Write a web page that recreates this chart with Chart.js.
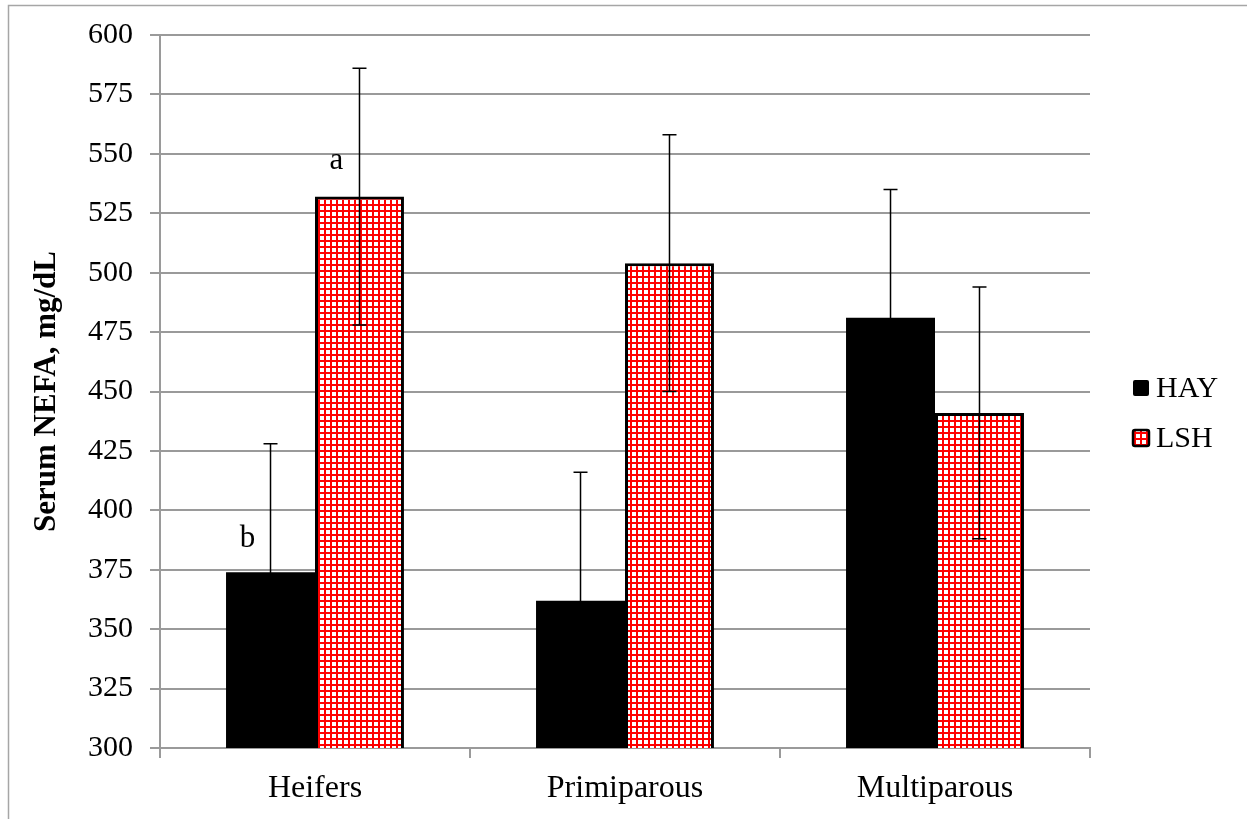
<!DOCTYPE html>
<html>
<head>
<meta charset="utf-8">
<script src="https://cdn.jsdelivr.net/npm/chart.js@4"></script>
<style>
  html, body { margin: 0; padding: 0; background: #fff; }
  #wrap { width: 1247px; height: 819px; }
</style>
</head>
<body>
<div id="wrap"><canvas id="canvas1" width="1247" height="819"></canvas></div>
<script>
const categories = ["Heifers", "Primiparous", "Multiparous"];
const hayValues = [374, 362, 481];
const lshValues = [532, 504, 441];
const hayErrors = [54, 54, 54];
const lshErrors = [54, 54, 53];
// significance letters and the value they sit at
const hayLetters = ["b", "", ""];
const hayLetterAt = [388, null, null];
const lshLetters = ["a", "", ""];
const lshLetterAt = [547, null, null];
const yMin = 300, yMax = 600, yStep = 25;

const serif = '"Liberation Serif", "Times New Roman", serif';
Chart.defaults.font.family = serif;
Chart.defaults.color = "#000";

const ctx1 = document.getElementById("canvas1");
const gridColor = "#9a9a9a";

function makeGridPattern() {
  const tile = document.createElement("canvas");
  tile.width = 6;
  tile.height = 6;
  const t = tile.getContext("2d");
  t.fillStyle = "#fff";
  t.fillRect(0, 0, 6, 6);
  t.fillStyle = "#ff0000";
  t.fillRect(0, 0, 6, 2);
  t.fillRect(0, 0, 2, 6);
  return ctx1.getContext("2d").createPattern(tile, "repeat");
}
const redGrid = makeGridPattern();

const framePlugin = {
  id: "frame",
  beforeDraw(chart) {
    const c = chart.ctx;
    c.save();
    c.fillStyle = "#fff";
    c.fillRect(0, 0, chart.width, chart.height);
    c.strokeStyle = "#a6a6a6";
    c.lineWidth = 1.5;
    c.beginPath();
    c.moveTo(8.5, chart.height);
    c.lineTo(8.5, 5.5);
    c.lineTo(chart.width, 5.5);
    c.stroke();
    c.restore();
  }
};

const errorBarPlugin = {
  id: "errorBars",
  afterDatasetsDraw(chart) {
    const c = chart.ctx;
    const y = chart.scales.y;
    c.save();
    c.strokeStyle = "#000";
    c.lineWidth = 1.5;
    chart.data.datasets.forEach((ds, i) => {
      const meta = chart.getDatasetMeta(i);
      meta.data.forEach((bar, j) => {
        const v = ds.data[j], e = ds.errors[j];
        const top = y.getPixelForValue(v + e);
        const bot = y.getPixelForValue(v - e);
        c.beginPath();
        c.moveTo(bar.x, top);
        c.lineTo(bar.x, bot);
        c.moveTo(bar.x - 7, top);
        c.lineTo(bar.x + 7, top);
        c.moveTo(bar.x - 7, bot);
        c.lineTo(bar.x + 7, bot);
        c.stroke();
      });
    });
    c.restore();
  }
};

const letterPlugin = {
  id: "letters",
  afterDatasetsDraw(chart) {
    const c = chart.ctx;
    const y = chart.scales.y;
    c.save();
    c.font = "31px " + serif;
    c.fillStyle = "#000";
    c.textAlign = "center";
    c.textBaseline = "middle";
    chart.data.datasets.forEach((ds, i) => {
      const meta = chart.getDatasetMeta(i);
      meta.data.forEach((bar, j) => {
        if (!ds.letters[j]) return;
        c.fillText(ds.letters[j], bar.x - 23, y.getPixelForValue(ds.letterAt[j]));
      });
    });
    c.restore();
  }
};

const legendPlugin = {
  id: "sideLegend",
  afterDraw(chart) {
    const c = chart.ctx;
    const centers = [388, 438];
    c.save();
    c.font = "30px " + serif;
    c.textBaseline = "middle";
    chart.data.datasets.forEach((ds, i) => {
      const cy = centers[i];
      c.beginPath();
      c.roundRect(1133, cy - 8, 16, 16, 2);
      c.fillStyle = ds.backgroundColor;
      c.fill();
      if (ds.borderWidth) {
        c.strokeStyle = "#000";
        c.lineWidth = 2.5;
        c.stroke();
      }
      c.fillStyle = "#000";
      c.fillText(ds.label, 1156, cy + 1);
    });
    c.restore();
  }
};

new Chart(ctx1, {
  type: "bar",
  data: {
    labels: categories,
    datasets: [
      {
        label: "HAY",
        data: hayValues,
        errors: hayErrors,
        letters: hayLetters,
        letterAt: hayLetterAt,
        backgroundColor: "#000",
        borderWidth: 0,
        categoryPercentage: 0.574,
        barPercentage: 1
      },
      {
        label: "LSH",
        data: lshValues,
        errors: lshErrors,
        letters: lshLetters,
        letterAt: lshLetterAt,
        backgroundColor: redGrid,
        borderColor: "#000",
        borderWidth: 3,
        categoryPercentage: 0.574,
        barPercentage: 1
      }
    ]
  },
  options: {
    responsive: false,
    animation: false,
    layout: { padding: { top: 35, right: 157, left: 0, bottom: 0 } },
    plugins: { legend: { display: false }, tooltip: { enabled: false } },
    scales: {
      x: {
        grid: { offset: true, drawOnChartArea: false, tickLength: 10, color: gridColor, lineWidth: 2 },
        border: { color: gridColor, width: 2 },
        ticks: { color: "#000", font: { size: 32 }, padding: 11 },
        afterFit: s => { s.height = 71; }
      },
      y: {
        min: yMin,
        max: yMax,
        ticks: { stepSize: yStep, color: "#000", font: { size: 30 }, padding: 17 },
        grid: { color: gridColor, lineWidth: 2, tickLength: 10 },
        border: { color: gridColor, width: 2 },
        title: {
          display: true,
          text: "Serum NEFA, mg/dL",
          color: "#000",
          font: { size: 31, weight: "bold" },
          padding: { top: 28, bottom: 0 }
        },
        afterFit: s => { s.width = 160; }
      }
    }
  },
  plugins: [framePlugin, errorBarPlugin, letterPlugin, legendPlugin]
});
</script>
</body>
</html>
